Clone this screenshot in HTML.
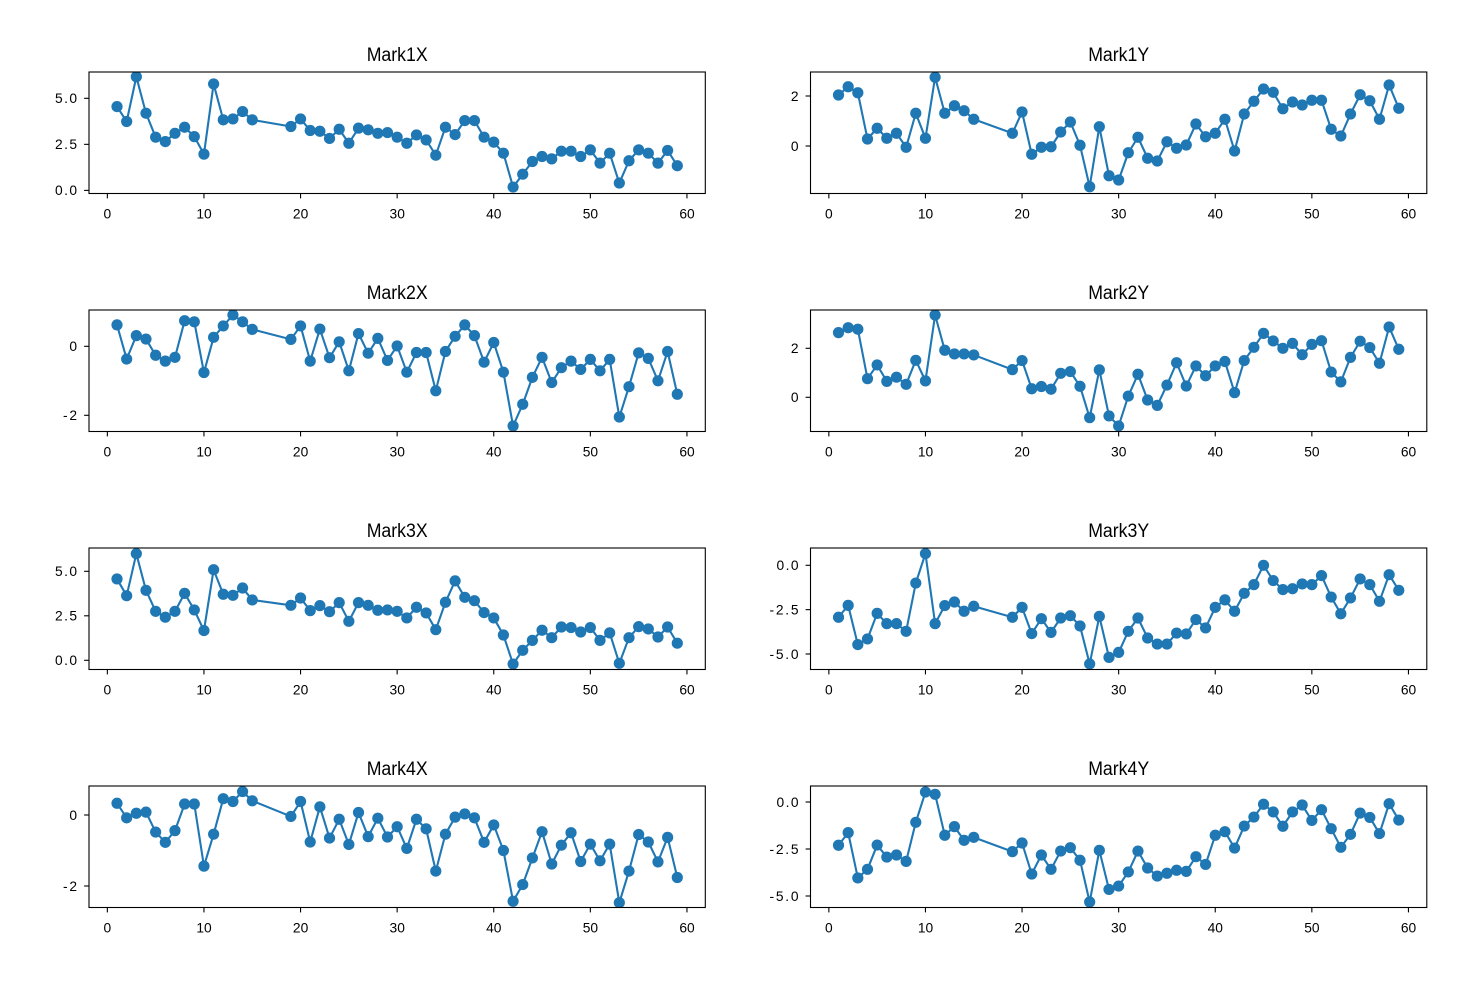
<!DOCTYPE html>
<html>
<head>
<meta charset="utf-8">
<style>
html,body{margin:0;padding:0;background:#fff;}
svg{display:block;}
text{font-family:"Liberation Sans","Noto Sans CJK SC",sans-serif;fill:#000;}
.t{font-size:19px;}
.k{font-size:13.8px;}
</style>
</head>
<body>
<svg id="fig" xmlns="http://www.w3.org/2000/svg" width="1461" height="983" viewBox="0 0 1461 983">
<rect width="1461" height="983" fill="#fff"/>
<g id="plots"></g>
<g id="labels">
<!-- Titles -->
<text class="t" x="397.2" y="61" text-anchor="middle" textLength="61" lengthAdjust="spacingAndGlyphs">Mark1X</text>
<text class="t" x="1118.7" y="61" text-anchor="middle" textLength="61" lengthAdjust="spacingAndGlyphs">Mark1Y</text>
<text class="t" x="397.2" y="299" text-anchor="middle" textLength="61" lengthAdjust="spacingAndGlyphs">Mark2X</text>
<text class="t" x="1118.7" y="299" text-anchor="middle" textLength="61" lengthAdjust="spacingAndGlyphs">Mark2Y</text>
<text class="t" x="397.2" y="537" text-anchor="middle" textLength="61" lengthAdjust="spacingAndGlyphs">Mark3X</text>
<text class="t" x="1118.7" y="537" text-anchor="middle" textLength="61" lengthAdjust="spacingAndGlyphs">Mark3Y</text>
<text class="t" x="397.2" y="775" text-anchor="middle" textLength="61" lengthAdjust="spacingAndGlyphs">Mark4X</text>
<text class="t" x="1118.7" y="775" text-anchor="middle" textLength="61" lengthAdjust="spacingAndGlyphs">Mark4Y</text>

<!-- X tick labels -->
<g class="k" text-anchor="middle">
<text x="107.4" y="218.5">0</text><text x="204" y="218.5">10</text><text x="300.6" y="218.5">20</text><text x="397.2" y="218.5">30</text><text x="493.8" y="218.5">40</text><text x="590.4" y="218.5">50</text><text x="687" y="218.5">60</text>
<text x="828.9" y="218.5">0</text><text x="925.5" y="218.5">10</text><text x="1022.1" y="218.5">20</text><text x="1118.7" y="218.5">30</text><text x="1215.3" y="218.5">40</text><text x="1311.9" y="218.5">50</text><text x="1408.5" y="218.5">60</text>

<text x="107.4" y="456.5">0</text><text x="204" y="456.5">10</text><text x="300.6" y="456.5">20</text><text x="397.2" y="456.5">30</text><text x="493.8" y="456.5">40</text><text x="590.4" y="456.5">50</text><text x="687" y="456.5">60</text>
<text x="828.9" y="456.5">0</text><text x="925.5" y="456.5">10</text><text x="1022.1" y="456.5">20</text><text x="1118.7" y="456.5">30</text><text x="1215.3" y="456.5">40</text><text x="1311.9" y="456.5">50</text><text x="1408.5" y="456.5">60</text>

<text x="107.4" y="694.5">0</text><text x="204" y="694.5">10</text><text x="300.6" y="694.5">20</text><text x="397.2" y="694.5">30</text><text x="493.8" y="694.5">40</text><text x="590.4" y="694.5">50</text><text x="687" y="694.5">60</text>
<text x="828.9" y="694.5">0</text><text x="925.5" y="694.5">10</text><text x="1022.1" y="694.5">20</text><text x="1118.7" y="694.5">30</text><text x="1215.3" y="694.5">40</text><text x="1311.9" y="694.5">50</text><text x="1408.5" y="694.5">60</text>

<text x="107.4" y="932.5">0</text><text x="204" y="932.5">10</text><text x="300.6" y="932.5">20</text><text x="397.2" y="932.5">30</text><text x="493.8" y="932.5">40</text><text x="590.4" y="932.5">50</text><text x="687" y="932.5">60</text>
<text x="828.9" y="932.5">0</text><text x="925.5" y="932.5">10</text><text x="1022.1" y="932.5">20</text><text x="1118.7" y="932.5">30</text><text x="1215.3" y="932.5">40</text><text x="1311.9" y="932.5">50</text><text x="1408.5" y="932.5">60</text>
</g>

<!-- Y tick labels -->
<g class="k" text-anchor="end" lengthAdjust="spacing">
<text x="77" y="103.1" textLength="22">5.0</text><text x="77" y="149.2" textLength="22">2.5</text><text x="77" y="195.2" textLength="22">0.0</text>
<text x="798.5" y="100.8">2</text><text x="798.5" y="150.8">0</text>

<text x="77" y="351.1">0</text><text x="77" y="420.1" textLength="14">-2</text>
<text x="798.5" y="353.1">2</text><text x="798.5" y="402.1">0</text>

<text x="77" y="576.1" textLength="22">5.0</text><text x="77" y="620.6" textLength="22">2.5</text><text x="77" y="665.1" textLength="22">0.0</text>
<text x="798.5" y="570.1" textLength="22">0.0</text><text x="798.5" y="614.5" textLength="29">-2.5</text><text x="798.5" y="658.8" textLength="29">-5.0</text>

<text x="77" y="819.8">0</text><text x="77" y="890.8" textLength="14">-2</text>
<text x="798.5" y="806.8" textLength="22">0.0</text><text x="798.5" y="853.8" textLength="29">-2.5</text><text x="798.5" y="900.8" textLength="29">-5.0</text>
</g>
</g>
</svg>
<script>
(function(){
var NS="http://www.w3.org/2000/svg";
var xs=[];for(var i=1;i<=15;i++)xs.push(i);for(var i=19;i<=59;i++)xs.push(i);
var P=[
{c:0,r:0,va:5,ya:98.3,vb:0,yb:190.4,t:[5,2.5,0],d:[4.55,3.74,6.17,4.19,2.89,2.65,3.1,3.43,2.92,1.97,5.78,3.83,3.88,4.28,3.83,3.47,3.88,3.25,3.21,2.82,3.32,2.56,3.38,3.29,3.1,3.14,2.89,2.56,3.01,2.74,1.91,3.43,3.03,3.79,3.79,2.89,2.62,2.02,0.18,0.88,1.57,1.84,1.71,2.13,2.13,1.84,2.2,1.48,2.02,0.4,1.61,2.2,2.02,1.48,2.17,1.34]},
{c:1,r:0,va:2,ya:96,vb:0,yb:146,t:[2,0],d:[2.04,2.37,2.13,0.28,0.71,0.31,0.51,-0.05,1.31,0.31,2.75,1.31,1.61,1.41,1.07,0.51,1.36,-0.33,-0.05,-0.03,0.56,0.96,0.03,-1.63,0.77,-1.19,-1.36,-0.27,0.35,-0.49,-0.6,0.17,-0.09,0.04,0.88,0.37,0.51,1.07,-0.2,1.28,1.79,2.28,2.15,1.49,1.76,1.64,1.83,1.83,0.67,0.4,1.28,2.05,1.81,1.07,2.44,1.51]},
{c:0,r:1,va:0,ya:346.3,vb:-2,yb:415.3,t:[0,-2],d:[0.62,-0.37,0.31,0.21,-0.26,-0.43,-0.32,0.74,0.71,-0.76,0.26,0.59,0.91,0.71,0.49,0.2,0.59,-0.43,0.5,-0.33,0.13,-0.71,0.37,-0.2,0.23,-0.41,0.01,-0.75,-0.18,-0.18,-1.29,-0.15,0.29,0.62,0.31,-0.46,0.11,-0.75,-2.31,-1.68,-0.9,-0.32,-1.05,-0.62,-0.43,-0.67,-0.38,-0.71,-0.38,-2.05,-1.17,-0.19,-0.35,-1.0,-0.15,-1.39]},
{c:1,r:1,va:2,ya:348.3,vb:0,yb:397.3,t:[2,0],d:[2.64,2.84,2.78,0.76,1.32,0.65,0.82,0.53,1.51,0.67,3.36,1.92,1.77,1.77,1.73,1.13,1.5,0.35,0.44,0.33,0.98,1.05,0.45,-0.83,1.12,-0.76,-1.17,0.05,0.94,-0.11,-0.33,0.5,1.41,0.46,1.28,0.88,1.28,1.46,0.19,1.5,2.04,2.61,2.3,2.0,2.2,1.74,2.16,2.31,1.03,0.63,1.63,2.29,2.03,1.39,2.87,1.96]},
{c:0,r:2,va:5,ya:571.3,vb:0,yb:660.3,t:[5,2.5,0],d:[4.57,3.63,5.99,3.93,2.75,2.42,2.75,3.76,2.83,1.67,5.09,3.71,3.65,4.06,3.39,3.09,3.5,2.79,3.07,2.73,3.24,2.19,3.24,3.09,2.81,2.83,2.75,2.38,2.98,2.66,1.72,3.26,4.46,3.54,3.35,2.68,2.38,1.42,-0.21,0.56,1.12,1.69,1.27,1.87,1.84,1.59,1.84,1.12,1.54,-0.17,1.27,1.89,1.76,1.31,1.87,0.96]},
{c:1,r:2,va:0,ya:565.3,vb:-5,yb:654,t:[0,-2.5,-5],d:[-2.93,-2.26,-4.47,-4.15,-2.71,-3.29,-3.29,-3.72,-1.0,0.66,-3.29,-2.27,-2.07,-2.59,-2.31,-2.93,-2.37,-3.85,-3.01,-3.78,-2.97,-2.84,-3.42,-5.56,-2.88,-5.19,-4.91,-3.72,-2.97,-4.1,-4.44,-4.44,-3.82,-3.87,-3.06,-3.53,-2.37,-1.95,-2.59,-1.58,-1.09,0.0,-0.86,-1.37,-1.32,-1.05,-1.09,-0.58,-1.79,-2.73,-1.84,-0.77,-1.09,-2.03,-0.53,-1.41]},
{c:0,r:3,va:0,ya:815,vb:-2,yb:886,t:[0,-2],d:[0.33,-0.08,0.05,0.08,-0.48,-0.77,-0.44,0.31,0.31,-1.44,-0.54,0.46,0.38,0.66,0.4,-0.04,0.38,-0.76,0.23,-0.65,-0.12,-0.83,0.07,-0.61,-0.09,-0.62,-0.33,-0.94,-0.12,-0.39,-1.58,-0.54,-0.06,0.03,-0.08,-0.77,-0.28,-1.0,-2.43,-1.96,-1.21,-0.47,-1.38,-0.85,-0.5,-1.31,-0.82,-1.29,-0.82,-2.47,-1.58,-0.55,-0.76,-1.32,-0.63,-1.76]},
{c:1,r:3,va:0,ya:802,vb:-5,yb:896,t:[0,-2.5,-5],d:[-2.3,-1.63,-4.04,-3.58,-2.29,-2.93,-2.82,-3.16,-1.08,0.53,0.41,-1.77,-1.31,-2.04,-1.88,-2.64,-2.18,-3.83,-2.82,-3.58,-2.61,-2.43,-3.1,-5.32,-2.57,-4.65,-4.47,-3.72,-2.61,-3.51,-3.94,-3.79,-3.63,-3.69,-2.91,-3.32,-1.77,-1.58,-2.45,-1.28,-0.8,-0.12,-0.53,-1.29,-0.53,-0.16,-0.98,-0.41,-1.42,-2.41,-1.72,-0.59,-0.82,-1.68,-0.09,-0.96]}
];
var root=document.getElementById("plots");
var defs=document.createElementNS(NS,"defs");root.appendChild(defs);
function el(n,a,p){var e=document.createElementNS(NS,n);for(var k in a)e.setAttribute(k,a[k]);(p||root).appendChild(e);return e;}
var W=616.3,H=121.5,S=W/63.8;
P.forEach(function(p,idx){
  var x0=p.c?810.5:89, top=72+238*p.r, bot=top+H;
  var s=(p.yb-p.ya)/(p.va-p.vb);
  function px(x){return x0+(x+1.9)*S;}
  function py(v){return p.ya+(p.va-v)*s;}
  var cp=el("clipPath",{id:"c"+idx},defs);
  el("rect",{x:x0,y:top,width:W,height:H},cp);
  var g=el("g",{"clip-path":"url(#c"+idx+")"});
  var pts=[];
  for(var i=0;i<xs.length;i++)pts.push(px(xs[i]).toFixed(2)+","+py(p.d[i]).toFixed(2));
  el("polyline",{points:pts.join(" "),fill:"none",stroke:"#1f77b4","stroke-width":"2.1","stroke-linejoin":"round","stroke-linecap":"square"},g);
  for(var i=0;i<xs.length;i++)el("circle",{cx:px(xs[i]).toFixed(2),cy:py(p.d[i]).toFixed(2),r:"5.6",fill:"#1f77b4"},g);
  el("rect",{x:x0,y:top,width:W,height:H,fill:"none",stroke:"#000","stroke-width":"1.1"});
  for(var t=0;t<=60;t+=10){var x=px(t);el("line",{x1:x,y1:bot,x2:x,y2:bot+4.9,stroke:"#000","stroke-width":"1.1"});}
  p.t.forEach(function(v){var y=py(v);el("line",{x1:x0-4.9,y1:y,x2:x0,y2:y,stroke:"#000","stroke-width":"1.1"});});
});
})();
</script>
</body>
</html>
